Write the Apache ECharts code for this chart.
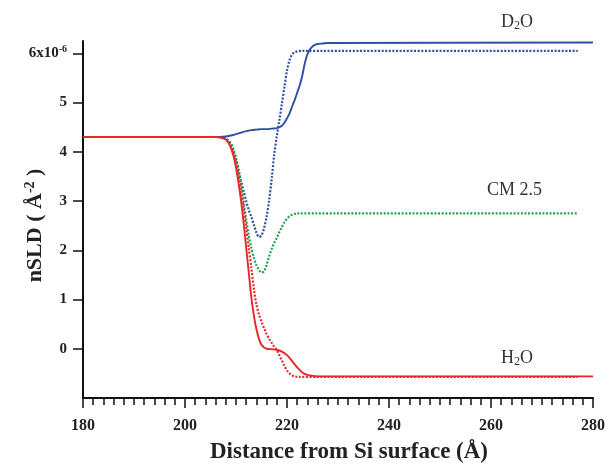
<!DOCTYPE html>
<html>
<head>
<meta charset="utf-8">
<script src="https://cdn.jsdelivr.net/npm/echarts@6.0.0/dist/echarts.min.js"></script>
<style>
  html, body { margin:0; padding:0; background:#fff; }
  #chart { width:605px; height:465px; }
</style>
</head>
<body>
<div id="chart"></div>
<script>
// --- data (x in Å, y in units of 1e-6 Å^-2)
const d2oFitX = [180, 207, 208, 209, 210, 211, 212, 213, 214, 215, 216, 217, 218, 218.5, 219, 219.5, 220, 220.5, 221, 221.5, 222, 222.5, 223, 223.5, 224, 224.5, 225, 225.5, 226, 227, 228, 280];
const d2oFitY = [4.3, 4.3, 4.31, 4.33, 4.36, 4.39, 4.42, 4.44, 4.45, 4.46, 4.46, 4.47, 4.48, 4.5, 4.53, 4.59, 4.68, 4.78, 4.92, 5.05, 5.2, 5.35, 5.55, 5.8, 5.98, 6.08, 6.14, 6.17, 6.19, 6.2, 6.21, 6.22];

const d2oModelX = [180, 207, 208, 209, 209.5, 210, 210.5, 211, 211.5, 212, 212.5, 213, 213.5, 214, 214.5, 215, 215.5, 216, 216.5, 217, 217.5, 218, 218.5, 219, 219.5, 220, 220.5, 221, 221.5, 222, 223, 277];
const d2oModelY = [4.3, 4.3, 4.27, 4.15, 4.02, 3.85, 3.62, 3.4, 3.2, 3.0, 2.82, 2.68, 2.52, 2.36, 2.27, 2.3, 2.45, 2.68, 3.02, 3.45, 3.95, 4.32, 4.64, 4.98, 5.32, 5.65, 5.86, 5.98, 6.02, 6.04, 6.05, 6.05];

const cmModelX = [180, 207, 208, 209, 209.5, 210, 210.5, 211, 211.5, 212, 212.5, 213, 213.5, 214, 214.5, 215, 215.5, 216, 216.5, 217, 217.5, 218, 218.5, 219, 219.5, 220, 220.5, 221, 221.5, 222, 277];
const cmModelY = [4.3, 4.3, 4.27, 4.17, 4.05, 3.88, 3.63, 3.35, 3.0, 2.62, 2.3, 2.05, 1.85, 1.7, 1.6, 1.55, 1.57, 1.7, 1.88, 2.03, 2.15, 2.25, 2.37, 2.47, 2.57, 2.64, 2.69, 2.72, 2.74, 2.75, 2.75];

const h2oModelX = [180, 206.5, 207.5, 208.5, 209, 209.5, 210, 210.5, 211, 211.5, 212, 212.5, 213, 213.5, 214, 214.5, 215, 215.5, 216, 216.5, 217, 217.5, 218, 218.5, 219, 219.5, 220, 220.5, 221, 221.5, 222, 277];
const h2oModelY = [4.3, 4.3, 4.28, 4.2, 4.1, 3.97, 3.78, 3.52, 3.2, 2.85, 2.45, 2.05, 1.65, 1.22, 0.9, 0.7, 0.55, 0.42, 0.3, 0.2, 0.12, 0.04, -0.03, -0.13, -0.24, -0.35, -0.44, -0.5, -0.54, -0.56, -0.57, -0.57];

const h2oFitX = [180, 206, 207, 208, 208.5, 209, 209.5, 210, 210.5, 211, 211.5, 212, 212.5, 213, 213.5, 214, 214.5, 215, 216, 217, 218, 219, 220, 221, 222, 223, 224, 225, 226, 280];
const h2oFitY = [4.3, 4.3, 4.29, 4.25, 4.19, 4.08, 3.92, 3.68, 3.36, 3.0, 2.55, 2.05, 1.55, 1.05, 0.68, 0.4, 0.2, 0.08, 0.0, -0.01, -0.02, -0.06, -0.13, -0.25, -0.38, -0.48, -0.53, -0.55, -0.56, -0.56];

const yTicks = [0, 1, 2, 3, 4, 5, 6];

const zip = (xs, ys) => xs.map((x, i) => [x, ys[i]]);

const SERIF = "'Liberation Serif', 'DejaVu Serif', serif";
const RED = "#e8262c", BLUE = "#2f4fa2", GREEN = "#20a04e";
const DOT = [2, 1.6];
const INK = "#222";

const chart = echarts.init(document.getElementById("chart"));

function line(name, xs, ys, color, dotted, z) {
  return {
    name, type: "line", data: zip(xs, ys), showSymbol: false, symbol: "none",
    smooth: 0.3, z, animation: false,
    lineStyle: { color, width: dotted ? 2.2 : 1.9, type: dotted ? DOT : "solid" },
  };
}

// chemical formula labels with subscript 2
const formula = (a, b) => ({
  text: "{a|" + a + "}{b|2}{a|" + b + "}",
  rich: {
    a: { fontFamily: SERIF, fontSize: 18, fill: "#333" },
    b: { fontFamily: SERIF, fontSize: 12, fill: "#333", padding: [7, 0, 0, 0] },
  },
});

chart.setOption({
  animation: false,
  backgroundColor: "#fff",
  grid: { left: 83, right: 12, top: 41, bottom: 67, containLabel: false, outerBoundsMode: "none" },
  xAxis: {
    type: "value", min: 180, max: 280, interval: 20,
    name: "Distance from Si surface (Å)", nameLocation: "middle", nameGap: 43, nameMoveOverlap: false,
    nameTextStyle: { fontFamily: SERIF, fontWeight: "bold", fontSize: 23, color: INK, padding: [0, 0, 0, 22] },
    axisLine: { onZero: false, lineStyle: { color: "#111", width: 2 } },
    axisTick: { inside: false, length: 10, lineStyle: { color: "#111", width: 1.5 } },
    minorTick: { show: true, splitNumber: 10, length: 7, lineStyle: { color: "#111", width: 1.5 } },
    splitLine: { show: false },
    axisLabel: { fontFamily: SERIF, fontWeight: "bold", fontSize: 16, color: INK, margin: 20 },
  },
  yAxis: {
    type: "value", min: -1, max: 6.25, interval: 1,
    name: "{n|nSLD ( Å}{s|-2}{n| )}", nameLocation: "middle", nameGap: 36, nameMoveOverlap: false,
    nameTextStyle: {
      padding: [0, 12, 0, 0],
      rich: {
        n: { fontFamily: SERIF, fontWeight: "bold", fontSize: 22, color: INK },
        s: { fontFamily: SERIF, fontWeight: "bold", fontSize: 14, color: INK, padding: [0, 0, 10, 0] },
      },
    },
    axisLine: { onZero: false, lineStyle: { color: "#111", width: 2 } },
    axisTick: { inside: false, length: 10, customValues: yTicks, lineStyle: { color: "#111", width: 1.5 } },
    splitLine: { show: false },
    axisLabel: {
      customValues: yTicks, margin: 16,
      formatter: (v) => (v === 6 ? "{b|6x10}{s|-6}" : "{b|" + v + "}"),
      rich: {
        b: { fontFamily: SERIF, fontWeight: "bold", fontSize: 15, color: INK },
        s: { fontFamily: SERIF, fontWeight: "bold", fontSize: 10, color: INK, padding: [0, 0, 8, 0] },
      },
    },
  },
  graphic: [
    { type: "text", left: 501, top: 13, style: formula("D", "O") },
    { type: "text", left: 487, top: 181, style: { text: "CM 2.5", font: "18px " + SERIF, fill: "#333" } },
    { type: "text", left: 501, top: 349, style: formula("H", "O") },
  ],
  series: [
    line("D2O model", d2oModelX, d2oModelY, BLUE, true, 2),
    line("CM 2.5 model", cmModelX, cmModelY, GREEN, true, 3),
    line("H2O model", h2oModelX, h2oModelY, RED, true, 4),
    line("D2O fit", d2oFitX, d2oFitY, BLUE, false, 5),
    line("H2O fit", h2oFitX, h2oFitY, RED, false, 6),
  ],
});
</script>
</body>
</html>
